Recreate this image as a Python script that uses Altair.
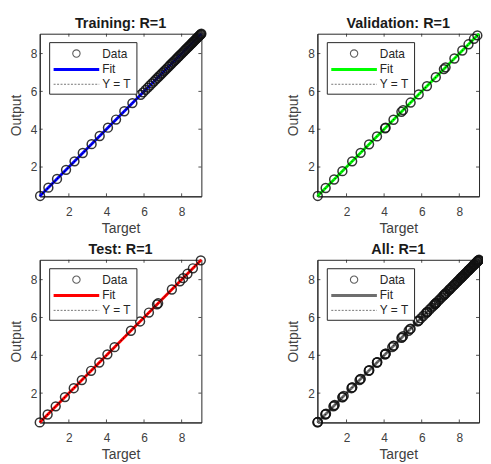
import altair as alt
import numpy as np
import pandas as pd

# ---- data (targets; outputs equal targets since R=1) ----
train_targets = [0.47, 0.91, 1.37, 1.85, 2.30, 2.74, 3.21, 3.64, 4.08, 4.51, 4.95, 5.38,
                 5.82, 5.95, 6.08, 6.20, 6.31, 6.42, 6.52, 6.62, 6.71, 6.80, 6.89, 6.97,
                 7.06, 7.14, 7.22, 7.30, 7.38, 7.46, 7.53, 7.60, 7.67, 7.74, 7.81, 7.87,
                 7.94, 8.00, 8.06, 8.12, 8.18, 8.24, 8.30, 8.36, 8.41, 8.46, 8.51, 8.56,
                 8.61, 8.66, 8.71, 8.76, 8.80, 8.84, 8.88, 8.92, 8.96, 9.00, 9.03, 9.05]
valid_targets = [0.47, 0.89, 1.34, 1.78, 2.30, 2.75, 3.20, 3.62, 4.05, 4.08, 4.50, 4.92,
                 5.01, 5.41, 5.84, 6.28, 6.75, 7.18, 7.27, 7.74, 8.16, 8.49, 8.78, 8.96]
test_targets = [0.45, 0.87, 1.30, 1.79, 2.26, 2.69, 3.18, 3.62, 4.05, 4.43, 5.30, 5.79,
                6.26, 6.69, 6.75, 7.48, 7.91, 8.08, 8.31, 8.60, 9.02]
all_targets = train_targets + valid_targets + test_targets

panel_titles = ["Training: R=1", "Validation: R=1", "Test: R=1", "All: R=1"]
panel_colors = ["#0000FF", "#00FF00", "#FF0000", "#6E6E6E"]
tick_values = [2, 4, 6, 8]
legend_labels = ["Data", "Fit", "Y = T"]

W, H = 163, 164
FONT = "Liberation Sans"
GRAY = "#404040"

lo, hi = min(all_targets), max(all_targets)
scale = alt.Scale(domain=[lo, hi], nice=False, zero=False)
ticks_df = pd.DataFrame({"v": tick_values})
one = pd.DataFrame({"k": [0]})


def panel(title, targets, color):
    df = pd.DataFrame({"Target": targets, "Output": targets})
    a, b = np.polyfit(targets, targets, 1)
    fit_df = pd.DataFrame({"Target": [lo, hi], "Fit": [a * lo + b, a * hi + b],
                           "YT": [lo, hi]})
    xax = alt.Axis(values=tick_values, title="Target")
    yax = alt.Axis(values=tick_values, title="Output")

    fit = alt.Chart(fit_df).mark_line(color=color, strokeWidth=2.8).encode(
        x=alt.X("Target:Q", scale=scale, axis=xax),
        y=alt.Y("Fit:Q", scale=scale, axis=yax))
    yt = alt.Chart(fit_df).mark_line(color="black", strokeDash=[1.5, 2], strokeWidth=0.8).encode(
        x=alt.X("Target:Q", scale=scale), y=alt.Y("YT:Q", scale=scale))
    pts = alt.Chart(df).mark_point(shape="circle", filled=False, size=80, color="#111111",
                                   strokeWidth=1.5, opacity=0.85).encode(
        x=alt.X("Target:Q", scale=scale), y=alt.Y("Output:Q", scale=scale))

    tick_style = dict(color="#262626", strokeWidth=0.8)
    tb = alt.Chart(ticks_df).mark_rule(**tick_style).encode(
        x=alt.X("v:Q", scale=scale), y=alt.value(H), y2=alt.value(H - 3))
    tt = alt.Chart(ticks_df).mark_rule(**tick_style).encode(
        x=alt.X("v:Q", scale=scale), y=alt.value(0), y2=alt.value(3))
    tl = alt.Chart(ticks_df).mark_rule(**tick_style).encode(
        y=alt.Y("v:Q", scale=scale), x=alt.value(0), x2=alt.value(3))
    tr = alt.Chart(ticks_df).mark_rule(**tick_style).encode(
        y=alt.Y("v:Q", scale=scale), x=alt.value(W), x2=alt.value(W - 3))

    # panel title (as text mark so it sits at a fixed distance above the frame)
    ttl = alt.Chart(one).mark_text(text=title, align="center", baseline="alphabetic",
                                   font=FONT, fontSize=14.5, fontWeight="bold",
                                   color="#1a1a1a").encode(
        x=alt.value(W / 2), y=alt.value(-6))

    # legend box
    box = alt.Chart(one).mark_rect(fill="white", stroke="#262626", strokeWidth=1).encode(
        x=alt.value(10), x2=alt.value(98), y=alt.value(9), y2=alt.value(61))
    lg_pt = alt.Chart(one).mark_point(shape="circle", filled=False, size=55,
                                      color="#1a1a1a", strokeWidth=1.1).encode(
        x=alt.value(37), y=alt.value(20))
    lg_fit = alt.Chart(one).mark_rule(color=color, strokeWidth=3).encode(
        x=alt.value(14), x2=alt.value(60), y=alt.value(36))
    lg_yt = alt.Chart(one).mark_rule(color="#555555", strokeDash=[2, 1.5], strokeWidth=0.8).encode(
        x=alt.value(14), x2=alt.value(60), y=alt.value(51))
    txt = []
    for lab, yy in zip(legend_labels, [20, 36, 51]):
        txt.append(alt.Chart(one).mark_text(text=lab, align="left", baseline="middle",
                                            font=FONT, fontSize=12, fontWeight="normal",
                                            color="#262626").encode(
            x=alt.value(63), y=alt.value(yy)))

    return alt.layer(fit, yt, pts, tb, tt, tl, tr, ttl, box, lg_pt, lg_fit, lg_yt, *txt).properties(
        width=W, height=H)


panels = [panel(t, d, c) for t, d, c in zip(
    panel_titles, [train_targets, valid_targets, test_targets, all_targets], panel_colors)]

chart = alt.concat(*panels, columns=2, spacing={"row": 64, "column": 117}, bounds="flush").properties(
    padding={"left": 0, "top": 5, "right": -4, "bottom": 0}
).configure_view(stroke="#262626", strokeWidth=1).configure_axis(
    grid=False, ticks=False, domainColor="#262626", domainWidth=1,
    labelFont=FONT, labelFontSize=12, labelColor=GRAY,
    titleFont=FONT, titleFontSize=14, titleFontWeight="normal", titleColor=GRAY
).configure_axisX(labelPadding=10, titlePadding=4.5).configure_axisY(labelPadding=3, titlePadding=7)

chart.save("out.html", embed_options={"renderer": "svg", "actions": False})
